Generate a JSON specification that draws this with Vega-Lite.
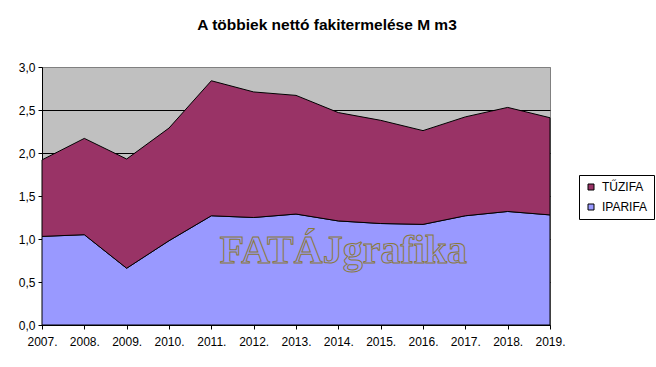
{
  "$schema": "https://vega.github.io/schema/vega-lite/v6.json",
  "width": 508,
  "height": 258,
  "autosize": {"type": "none"},
  "padding": {"left": 42, "top": 67, "right": 106, "bottom": 42},
  "background": "white",
  "title": {
    "text": "A többiek nettó fakitermelése M m3",
    "font": "Liberation Sans",
    "fontSize": 15.5,
    "fontWeight": "bold",
    "color": "black",
    "anchor": "middle",
    "dx": 31,
    "baseline": "alphabetic",
    "offset": 16
  },
  "config": {
    "view": {"fill": "#C0C0C0", "stroke": "#808080", "strokeWidth": 1},
    "axis": {
      "labelFont": "Liberation Sans",
      "labelFontSize": 12,
      "labelColor": "black",
      "domainColor": "black",
      "tickColor": "black",
      "tickSize": 4,
      "title": null
    }
  },
  "layer": [
    {
      "data": {
        "values": [
          {"year": 2007, "series": "IPARIFA", "value": 1.03},
          {"year": 2008, "series": "IPARIFA", "value": 1.05},
          {"year": 2009, "series": "IPARIFA", "value": 0.66},
          {"year": 2010, "series": "IPARIFA", "value": 0.98},
          {"year": 2011, "series": "IPARIFA", "value": 1.27},
          {"year": 2012, "series": "IPARIFA", "value": 1.25},
          {"year": 2013, "series": "IPARIFA", "value": 1.29},
          {"year": 2014, "series": "IPARIFA", "value": 1.21},
          {"year": 2015, "series": "IPARIFA", "value": 1.18},
          {"year": 2016, "series": "IPARIFA", "value": 1.17},
          {"year": 2017, "series": "IPARIFA", "value": 1.27},
          {"year": 2018, "series": "IPARIFA", "value": 1.32},
          {"year": 2019, "series": "IPARIFA", "value": 1.28},
          {"year": 2007, "series": "TŰZIFA", "value": 0.89},
          {"year": 2008, "series": "TŰZIFA", "value": 1.12},
          {"year": 2009, "series": "TŰZIFA", "value": 1.27},
          {"year": 2010, "series": "TŰZIFA", "value": 1.31},
          {"year": 2011, "series": "TŰZIFA", "value": 1.57},
          {"year": 2012, "series": "TŰZIFA", "value": 1.46},
          {"year": 2013, "series": "TŰZIFA", "value": 1.38},
          {"year": 2014, "series": "TŰZIFA", "value": 1.26},
          {"year": 2015, "series": "TŰZIFA", "value": 1.20},
          {"year": 2016, "series": "TŰZIFA", "value": 1.09},
          {"year": 2017, "series": "TŰZIFA", "value": 1.15},
          {"year": 2018, "series": "TŰZIFA", "value": 1.21},
          {"year": 2019, "series": "TŰZIFA", "value": 1.13}
        ]
      },
      "mark": {"type": "area", "stroke": "black", "strokeWidth": 1, "interpolate": "linear"},
      "encoding": {
        "x": {
          "field": "year",
          "type": "quantitative",
          "scale": {"domain": [2007, 2019], "nice": false, "zero": false},
          "axis": {
            "values": [2007, 2008, 2009, 2010, 2011, 2012, 2013, 2014, 2015, 2016, 2017, 2018, 2019],
            "labelExpr": "datum.value + '.'",
            "grid": false,
            "labelPadding": 7,
            "labelFlush": false,
            "labelOverlap": false
          }
        },
        "y": {
          "field": "value",
          "type": "quantitative",
          "stack": "zero",
          "scale": {"domain": [0, 3], "nice": false},
          "axis": {
            "values": [0, 0.5, 1, 1.5, 2, 2.5, 3],
            "labelExpr": "replace(format(datum.value, '.1f'), '.', ',')",
            "grid": true,
            "gridColor": {"condition": {"test": "datum.value >= 3", "value": "#808080"}, "value": "black"},
            "gridOpacity": 1,
            "labelPadding": 3,
            "labelFlush": false
          }
        },
        "color": {
          "field": "series",
          "type": "nominal",
          "scale": {"domain": ["TŰZIFA", "IPARIFA"], "range": ["#993366", "#9999FF"]},
          "legend": {
            "title": null,
            "orient": "none",
            "legendX": 537,
            "legendY": 108,
            "symbolType": "square",
            "symbolSize": 36,
            "symbolStrokeColor": "black",
            "symbolStrokeWidth": 1,
            "labelFont": "Liberation Sans",
            "labelFontSize": 12,
            "labelColor": "black",
            "labelOffset": 5,
            "rowPadding": 8,
            "padding": 6,
            "strokeColor": "black",
            "fillColor": "white"
          }
        },
        "order": {"field": "series", "sort": "ascending"}
      }
    },
    {
      "data": {"values": [{"year": 2014.12, "value": 0.72, "label": "FATÁJgrafika"}]},
      "mark": {
        "type": "text",
        "font": "Liberation Serif",
        "fontSize": 40,
        "fontWeight": "bold",
        "baseline": "alphabetic",
        "align": "center",
        "fillOpacity": 0,
        "stroke": "#8a7a3a",
        "strokeWidth": 1
      },
      "encoding": {
        "x": {"field": "year", "type": "quantitative"},
        "y": {"field": "value", "type": "quantitative"},
        "text": {"field": "label"}
      }
    }
  ]
}
